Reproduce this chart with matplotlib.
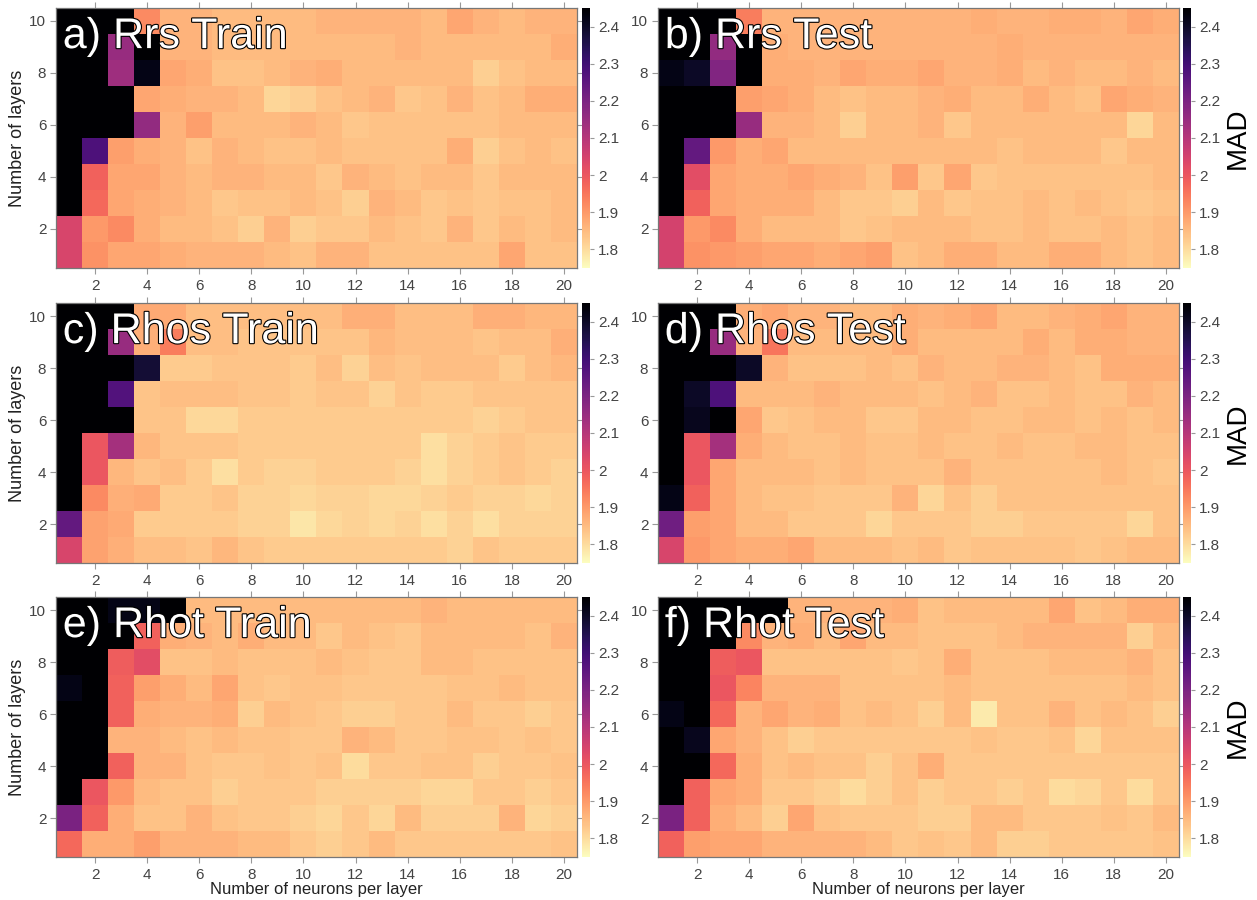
import numpy as np
import matplotlib.pyplot as plt
import matplotlib.patheffects as pe
from matplotlib.ticker import FormatStrFormatter

plt.rcParams['font.family'] = ['Liberation Sans', 'DejaVu Sans']

# MAD values, rows = number of layers 10 (top) .. 1 (bottom), cols = neurons 1..20
# values above 2.45 saturate to black
B = 2.5
neurons = np.arange(1, 21)
layers = np.arange(1, 11)

rrs_train = [
    [B, B, B, 1.92, 1.86, 1.86, 1.85, 1.85, 1.85, 1.85, 1.86, 1.86, 1.86, 1.86, 1.85, 1.88, 1.86, 1.85, 1.86, 1.86],
    [B, B, 2.15, B, 1.86, 1.86, 1.85, 1.85, 1.85, 1.85, 1.85, 1.85, 1.85, 1.86, 1.85, 1.85, 1.85, 1.85, 1.85, 1.87],
    [B, 2.45, 2.14, 2.42, 1.88, 1.87, 1.84, 1.84, 1.85, 1.86, 1.87, 1.85, 1.85, 1.85, 1.85, 1.85, 1.82, 1.84, 1.85, 1.85],
    [B, B, B, 1.88, 1.87, 1.86, 1.86, 1.85, 1.81, 1.82, 1.84, 1.85, 1.86, 1.83, 1.84, 1.86, 1.84, 1.85, 1.87, 1.87],
    [B, B, B, 2.16, 1.86, 1.89, 1.85, 1.85, 1.85, 1.86, 1.85, 1.83, 1.84, 1.84, 1.84, 1.84, 1.84, 1.85, 1.85, 1.85],
    [B, 2.28, 1.89, 1.87, 1.86, 1.84, 1.86, 1.85, 1.84, 1.84, 1.85, 1.84, 1.84, 1.84, 1.84, 1.87, 1.82, 1.84, 1.85, 1.84],
    [B, 1.98, 1.88, 1.88, 1.86, 1.85, 1.86, 1.86, 1.85, 1.85, 1.83, 1.86, 1.85, 1.84, 1.85, 1.85, 1.83, 1.85, 1.85, 1.85],
    [B, 1.97, 1.88, 1.87, 1.86, 1.85, 1.83, 1.84, 1.84, 1.85, 1.84, 1.82, 1.86, 1.85, 1.83, 1.84, 1.83, 1.84, 1.84, 1.85],
    [2.04, 1.90, 1.92, 1.87, 1.85, 1.85, 1.84, 1.82, 1.86, 1.82, 1.83, 1.83, 1.85, 1.84, 1.83, 1.86, 1.83, 1.85, 1.84, 1.85],
    [2.04, 1.91, 1.88, 1.88, 1.87, 1.86, 1.86, 1.86, 1.85, 1.84, 1.86, 1.86, 1.84, 1.84, 1.84, 1.84, 1.84, 1.88, 1.84, 1.84],
]

rrs_test = [
    [B, B, B, 1.94, 1.86, 1.86, 1.86, 1.86, 1.86, 1.86, 1.86, 1.86, 1.87, 1.86, 1.86, 1.87, 1.87, 1.86, 1.88, 1.87],
    [B, B, 2.16, B, 1.87, 1.86, 1.86, 1.86, 1.86, 1.86, 1.86, 1.86, 1.86, 1.87, 1.86, 1.86, 1.86, 1.86, 1.86, 1.86],
    [2.42, 2.40, 2.19, B, 1.87, 1.87, 1.86, 1.88, 1.87, 1.87, 1.88, 1.86, 1.86, 1.87, 1.85, 1.86, 1.85, 1.85, 1.86, 1.85],
    [B, B, B, 1.89, 1.88, 1.87, 1.85, 1.84, 1.85, 1.85, 1.86, 1.87, 1.85, 1.85, 1.87, 1.85, 1.84, 1.88, 1.87, 1.86],
    [B, B, B, 2.15, 1.86, 1.86, 1.85, 1.82, 1.85, 1.85, 1.86, 1.83, 1.85, 1.85, 1.85, 1.85, 1.85, 1.85, 1.81, 1.85],
    [B, 2.24, 1.90, 1.87, 1.88, 1.85, 1.85, 1.85, 1.85, 1.85, 1.85, 1.85, 1.85, 1.84, 1.85, 1.85, 1.85, 1.83, 1.85, 1.85],
    [B, 2.02, 1.88, 1.87, 1.87, 1.88, 1.87, 1.86, 1.84, 1.89, 1.83, 1.88, 1.83, 1.84, 1.84, 1.84, 1.84, 1.84, 1.84, 1.85],
    [B, 1.98, 1.88, 1.87, 1.87, 1.87, 1.85, 1.83, 1.83, 1.82, 1.85, 1.83, 1.84, 1.84, 1.85, 1.84, 1.85, 1.84, 1.83, 1.84],
    [2.05, 1.90, 1.92, 1.87, 1.85, 1.85, 1.85, 1.83, 1.84, 1.85, 1.85, 1.85, 1.84, 1.84, 1.85, 1.84, 1.84, 1.85, 1.84, 1.85],
    [2.05, 1.91, 1.90, 1.89, 1.88, 1.88, 1.87, 1.88, 1.89, 1.84, 1.85, 1.87, 1.87, 1.85, 1.85, 1.87, 1.87, 1.85, 1.84, 1.85],
]

rhos_train = [
    [B, B, B, 1.875, 1.875, 1.845, 1.845, 1.845, 1.845, 1.845, 1.845, 1.865, 1.865, 1.845, 1.845, 1.845, 1.865, 1.865, 1.855, 1.855],
    [B, B, 2.15, 1.865, 1.94, 1.845, 1.845, 1.835, 1.835, 1.835, 1.835, 1.835, 1.855, 1.845, 1.845, 1.845, 1.835, 1.845, 1.845, 1.865],
    [B, B, B, 2.38, 1.825, 1.825, 1.835, 1.835, 1.835, 1.825, 1.845, 1.815, 1.845, 1.835, 1.845, 1.845, 1.845, 1.825, 1.845, 1.855],
    [B, B, 2.27, 1.835, 1.845, 1.845, 1.845, 1.835, 1.835, 1.825, 1.835, 1.835, 1.815, 1.835, 1.825, 1.825, 1.835, 1.835, 1.835, 1.835],
    [B, B, B, 1.835, 1.835, 1.805, 1.805, 1.825, 1.825, 1.825, 1.825, 1.825, 1.825, 1.825, 1.825, 1.825, 1.815, 1.825, 1.835, 1.835],
    [B, 2.00, 2.13, 1.855, 1.835, 1.835, 1.835, 1.825, 1.825, 1.825, 1.825, 1.825, 1.825, 1.825, 1.795, 1.815, 1.825, 1.835, 1.825, 1.825],
    [B, 2.00, 1.855, 1.835, 1.845, 1.825, 1.795, 1.825, 1.815, 1.815, 1.825, 1.825, 1.825, 1.815, 1.795, 1.815, 1.825, 1.835, 1.825, 1.815],
    [B, 1.92, 1.865, 1.875, 1.825, 1.825, 1.835, 1.815, 1.815, 1.805, 1.815, 1.815, 1.805, 1.805, 1.815, 1.825, 1.815, 1.815, 1.805, 1.815],
    [2.24, 1.885, 1.875, 1.825, 1.825, 1.825, 1.825, 1.815, 1.815, 1.785, 1.805, 1.815, 1.805, 1.815, 1.795, 1.815, 1.795, 1.815, 1.815, 1.815],
    [2.04, 1.885, 1.865, 1.845, 1.845, 1.835, 1.855, 1.835, 1.825, 1.825, 1.825, 1.825, 1.825, 1.825, 1.825, 1.815, 1.835, 1.825, 1.825, 1.825],
]

rhos_test = [
    [B, B, B, 1.87, 1.88, 1.86, 1.86, 1.85, 1.85, 1.87, 1.86, 1.87, 1.88, 1.85, 1.85, 1.86, 1.87, 1.88, 1.86, 1.86],
    [B, B, 2.15, 1.86, 1.95, 1.85, 1.85, 1.85, 1.85, 1.87, 1.85, 1.85, 1.85, 1.85, 1.87, 1.85, 1.87, 1.87, 1.86, 1.86],
    [B, B, B, 2.40, 1.86, 1.84, 1.84, 1.84, 1.85, 1.84, 1.86, 1.85, 1.85, 1.86, 1.86, 1.85, 1.84, 1.87, 1.87, 1.87],
    [B, 2.40, 2.28, 1.85, 1.85, 1.85, 1.86, 1.85, 1.85, 1.85, 1.84, 1.85, 1.86, 1.84, 1.84, 1.85, 1.84, 1.84, 1.86, 1.85],
    [B, 2.41, B, 1.88, 1.83, 1.84, 1.85, 1.85, 1.83, 1.83, 1.85, 1.85, 1.84, 1.84, 1.85, 1.85, 1.84, 1.85, 1.84, 1.85],
    [B, 2.00, 2.13, 1.87, 1.85, 1.84, 1.84, 1.85, 1.84, 1.84, 1.85, 1.84, 1.84, 1.85, 1.84, 1.84, 1.85, 1.85, 1.84, 1.84],
    [B, 2.00, 1.88, 1.85, 1.85, 1.85, 1.84, 1.85, 1.84, 1.84, 1.84, 1.86, 1.84, 1.84, 1.84, 1.84, 1.84, 1.85, 1.84, 1.83],
    [2.42, 1.98, 1.88, 1.85, 1.84, 1.84, 1.83, 1.83, 1.83, 1.86, 1.81, 1.84, 1.82, 1.84, 1.84, 1.84, 1.84, 1.84, 1.84, 1.84],
    [2.22, 1.89, 1.88, 1.85, 1.85, 1.83, 1.83, 1.83, 1.81, 1.83, 1.83, 1.83, 1.82, 1.82, 1.83, 1.83, 1.83, 1.83, 1.81, 1.84],
    [2.04, 1.90, 1.88, 1.87, 1.87, 1.88, 1.85, 1.85, 1.85, 1.84, 1.85, 1.83, 1.84, 1.84, 1.84, 1.84, 1.83, 1.84, 1.85, 1.85],
]

rhot_train = [
    [B, B, 2.42, 2.42, B, 1.85, 1.85, 1.85, 1.85, 1.85, 1.85, 1.85, 1.85, 1.85, 1.86, 1.85, 1.85, 1.85, 1.85, 1.85],
    [B, B, B, 1.98, 1.87, 1.86, 1.85, 1.87, 1.85, 1.85, 1.83, 1.85, 1.84, 1.83, 1.85, 1.85, 1.85, 1.85, 1.84, 1.86],
    [B, B, 1.99, 2.02, 1.84, 1.84, 1.85, 1.84, 1.84, 1.84, 1.85, 1.84, 1.83, 1.83, 1.85, 1.85, 1.84, 1.84, 1.84, 1.84],
    [2.42, B, 1.98, 1.89, 1.87, 1.85, 1.88, 1.84, 1.83, 1.84, 1.84, 1.83, 1.83, 1.83, 1.83, 1.84, 1.84, 1.85, 1.84, 1.84],
    [B, B, 1.98, 1.87, 1.86, 1.86, 1.87, 1.82, 1.85, 1.84, 1.83, 1.82, 1.82, 1.83, 1.83, 1.85, 1.83, 1.83, 1.82, 1.83],
    [B, B, 1.86, 1.86, 1.85, 1.84, 1.85, 1.84, 1.84, 1.83, 1.83, 1.86, 1.85, 1.83, 1.83, 1.84, 1.84, 1.83, 1.84, 1.83],
    [B, B, 1.98, 1.86, 1.86, 1.84, 1.83, 1.83, 1.84, 1.83, 1.84, 1.80, 1.83, 1.83, 1.84, 1.84, 1.82, 1.83, 1.83, 1.84],
    [B, 2.00, 1.90, 1.85, 1.84, 1.84, 1.82, 1.83, 1.83, 1.83, 1.82, 1.82, 1.82, 1.82, 1.81, 1.81, 1.83, 1.83, 1.82, 1.83],
    [2.20, 1.98, 1.87, 1.84, 1.84, 1.86, 1.84, 1.83, 1.83, 1.82, 1.81, 1.83, 1.81, 1.85, 1.82, 1.82, 1.82, 1.86, 1.81, 1.82],
    [1.97, 1.87, 1.87, 1.89, 1.86, 1.86, 1.86, 1.85, 1.85, 1.83, 1.82, 1.83, 1.85, 1.83, 1.83, 1.83, 1.83, 1.83, 1.83, 1.84],
]

rhot_test = [
    [B, B, B, B, B, 1.86, 1.86, 1.86, 1.86, 1.87, 1.84, 1.85, 1.85, 1.85, 1.85, 1.88, 1.84, 1.85, 1.87, 1.87],
    [B, B, B, 1.92, 1.86, 1.87, 1.85, 1.88, 1.85, 1.85, 1.84, 1.84, 1.84, 1.85, 1.86, 1.86, 1.86, 1.86, 1.82, 1.85],
    [B, B, 1.99, 2.00, 1.84, 1.84, 1.84, 1.84, 1.84, 1.83, 1.84, 1.87, 1.84, 1.84, 1.84, 1.85, 1.85, 1.85, 1.86, 1.84],
    [B, B, 2.00, 1.93, 1.86, 1.86, 1.86, 1.84, 1.84, 1.84, 1.84, 1.85, 1.84, 1.84, 1.84, 1.84, 1.84, 1.84, 1.85, 1.84],
    [2.42, B, 1.97, 1.86, 1.88, 1.86, 1.87, 1.84, 1.85, 1.84, 1.82, 1.85, 1.78, 1.84, 1.84, 1.86, 1.84, 1.85, 1.84, 1.82],
    [B, 2.41, 1.88, 1.86, 1.84, 1.82, 1.83, 1.83, 1.83, 1.83, 1.83, 1.83, 1.84, 1.83, 1.83, 1.84, 1.81, 1.84, 1.84, 1.84],
    [B, B, 1.97, 1.87, 1.84, 1.85, 1.84, 1.84, 1.82, 1.84, 1.87, 1.83, 1.83, 1.83, 1.83, 1.83, 1.83, 1.83, 1.83, 1.83],
    [B, 1.98, 1.88, 1.87, 1.83, 1.83, 1.82, 1.80, 1.82, 1.84, 1.82, 1.83, 1.83, 1.82, 1.83, 1.80, 1.81, 1.83, 1.80, 1.83],
    [2.20, 1.98, 1.87, 1.85, 1.82, 1.88, 1.84, 1.83, 1.83, 1.83, 1.82, 1.82, 1.85, 1.85, 1.83, 1.83, 1.83, 1.84, 1.83, 1.85],
    [1.98, 1.89, 1.88, 1.88, 1.86, 1.86, 1.86, 1.86, 1.85, 1.83, 1.84, 1.83, 1.85, 1.82, 1.82, 1.83, 1.83, 1.83, 1.83, 1.84],
]

panels = [
    ('a) Rrs Train', rrs_train), ('b) Rrs Test', rrs_test),
    ('c) Rhos Train', rhos_train), ('d) Rhos Test', rhos_test),
    ('e) Rhot Train', rhot_train), ('f) Rhot Test', rhot_test),
]

vmin, vmax = 1.75, 2.45
grey = '#444444'

fig = plt.figure(figsize=(12.57, 9), dpi=100)

col_x = [56 / 1257, 658 / 1257]
cb_x = [582 / 1257, 1183 / 1257]
row_y = [1 - 268 / 900, 1 - 563 / 900, 1 - 857 / 900]
w = 521 / 1257
h = 260 / 900

for i, (title, vals) in enumerate(panels):
    r, c = divmod(i, 2)
    ax = fig.add_axes([col_x[c], row_y[r], w, h])
    im = ax.imshow(np.array(vals), cmap='magma_r', vmin=vmin, vmax=vmax,
                   origin='upper', aspect='auto',
                   extent=(neurons[0] - 0.5, neurons[-1] + 0.5, layers[0] - 0.5, layers[-1] + 0.5))
    ax.set_xticks(np.arange(2, 21, 2))
    ax.set_yticks(np.arange(2, 11, 2))
    ax.tick_params(direction='out', length=4, width=0.8, color='#999999', labelcolor=grey,
                   labelsize=11, top=True, right=True)
    ax.tick_params(axis='x', pad=4)
    ax.tick_params(axis='y', pad=3)
    for s in ax.spines.values():
        s.set_color('#777777')
        s.set_linewidth(0.9)
    ax.text(0.013, 0.965, title, transform=ax.transAxes, ha='left', va='top',
            fontsize=31, color='white',
            path_effects=[pe.withStroke(linewidth=1.6, foreground='black')])
    if c == 0:
        ax.set_ylabel('Number of layers', fontsize=13, color='#222222', labelpad=2)
    if r == 2:
        ax.set_xlabel('Number of neurons per layer', fontsize=12, color='#222222', labelpad=0)

    cax = fig.add_axes([cb_x[c], row_y[r], 8 / 1257, h])
    cb = fig.colorbar(im, cax=cax, ticks=np.arange(1.8, 2.41, 0.1))
    cb.ax.yaxis.set_major_formatter(FormatStrFormatter('%g'))
    cb.outline.set_visible(False)
    cb.ax.tick_params(direction='out', length=3, width=0.8, color='#999999',
                      labelcolor=grey, labelsize=11, pad=3)
    if c == 1:
        cb.set_label('MAD', fontsize=20, color='black', labelpad=3)

fig.savefig('out.png', dpi=100)
